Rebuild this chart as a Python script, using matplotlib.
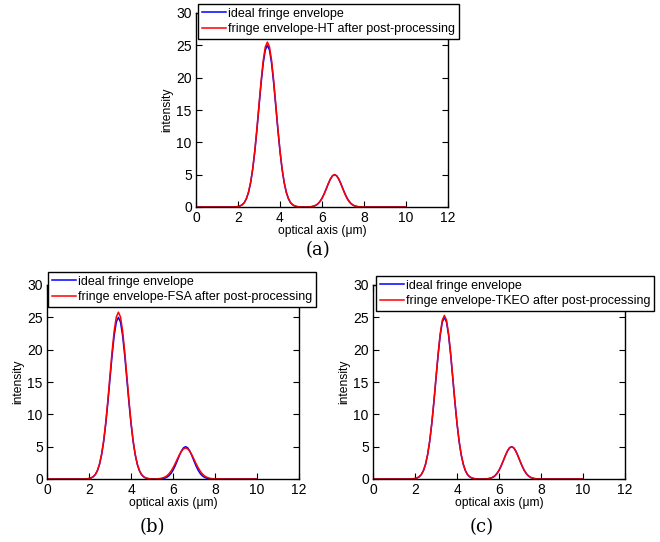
import matplotlib
matplotlib.use("Agg")
import matplotlib.pyplot as plt

plt.rcParams['font.family'] = ['Liberation Sans', 'DejaVu Sans']

# optical axis samples (um)
x = [0.0, 0.5, 1.0, 1.5,
     1.7, 1.8, 1.9, 2.0, 2.1, 2.2, 2.3, 2.4, 2.5, 2.6,
     2.7, 2.8, 2.9, 3.0, 3.1, 3.2, 3.3, 3.4, 3.5, 3.6,
     3.7, 3.8, 3.9, 4.0, 4.1, 4.2, 4.3, 4.4, 4.5, 4.6,
     4.7, 4.8, 4.9, 5.0, 5.1, 5.2, 5.3, 5.4, 5.5, 5.6,
     5.7, 5.8, 5.9, 6.0, 6.1, 6.2, 6.3, 6.4, 6.5, 6.6,
     6.7, 6.8, 6.9, 7.0, 7.1, 7.2, 7.3, 7.4, 7.5, 7.6,
     7.7, 7.8, 7.9, 8.0,
     8.5, 9.0, 9.5, 10.0]

ideal = [0.0, 0.0, 0.0, 0.0,
         0.0, 0.01, 0.03, 0.07, 0.16, 0.35, 0.68, 1.28, 2.25, 3.73,
         5.82, 8.57, 11.89, 15.53, 19.13, 22.20, 24.27, 25.00, 24.27, 22.20,
         19.13, 15.53, 11.89, 8.57, 5.82, 3.73, 2.25, 1.28, 0.68, 0.35,
         0.16, 0.07, 0.03, 0.01, 0.0, 0.0, 0.0, 0.02, 0.06, 0.13,
         0.26, 0.48, 0.84, 1.34, 2.01, 2.79, 3.60, 4.32, 4.82, 5.00,
         4.82, 4.32, 3.60, 2.79, 2.01, 1.34, 0.84, 0.48, 0.26, 0.13,
         0.06, 0.02, 0.0, 0.0,
         0.0, 0.0, 0.0, 0.0]

env_ht = [0.0, 0.0, 0.0, 0.0,
          0.0, 0.01, 0.03, 0.07, 0.17, 0.35, 0.69, 1.31, 2.30, 3.80,
          5.94, 8.74, 12.13, 15.84, 19.51, 22.64, 24.76, 25.50, 24.76, 22.64,
          19.51, 15.84, 12.13, 8.74, 5.94, 3.80, 2.30, 1.31, 0.69, 0.35,
          0.17, 0.07, 0.03, 0.01, 0.0, 0.0, 0.0, 0.02, 0.05, 0.12,
          0.25, 0.47, 0.83, 1.33, 2.00, 2.79, 3.61, 4.34, 4.84, 5.02,
          4.82, 4.30, 3.56, 2.74, 1.95, 1.29, 0.80, 0.45, 0.24, 0.12,
          0.05, 0.02, 0.0, 0.0,
          0.0, 0.0, 0.0, 0.0]

env_fsa = [0.0, 0.0, 0.0, 0.0,
           0.0, 0.01, 0.03, 0.08, 0.17, 0.36, 0.70, 1.32, 2.32, 3.85,
           6.01, 8.84, 12.27, 16.03, 19.74, 22.91, 25.05, 25.80, 25.05, 22.91,
           19.74, 16.03, 12.27, 8.84, 6.01, 3.85, 2.32, 1.32, 0.70, 0.36,
           0.17, 0.08, 0.03, 0.01, 0.0, 0.02, 0.04, 0.08, 0.16, 0.28,
           0.48, 0.78, 1.20, 1.73, 2.36, 3.05, 3.72, 4.29, 4.67, 4.80,
           4.67, 4.29, 3.72, 3.05, 2.36, 1.73, 1.20, 0.78, 0.48, 0.28,
           0.16, 0.08, 0.04, 0.02,
           0.0, 0.0, 0.0, 0.0]

env_tkeo = [0.0, 0.0, 0.0, 0.0,
            0.0, 0.01, 0.03, 0.07, 0.17, 0.35, 0.69, 1.30, 2.28, 3.77,
            5.89, 8.67, 12.03, 15.72, 19.36, 22.47, 24.56, 25.30, 24.56, 22.47,
            19.36, 15.72, 12.03, 8.67, 5.89, 3.77, 2.28, 1.30, 0.69, 0.35,
            0.17, 0.07, 0.03, 0.01, 0.0, 0.0, 0.0, 0.02, 0.06, 0.13,
            0.26, 0.48, 0.84, 1.34, 2.01, 2.79, 3.60, 4.32, 4.82, 5.00,
            4.82, 4.32, 3.60, 2.79, 2.01, 1.34, 0.84, 0.48, 0.26, 0.13,
            0.06, 0.02, 0.0, 0.0,
            0.0, 0.0, 0.0, 0.0]

xticks = [0, 2, 4, 6, 8, 10, 12]
yticks = [0, 5, 10, 15, 20, 25, 30]

W, H = 660, 542
fig = plt.figure(figsize=(W / 100, H / 100), dpi=100)


def px_axes(left, top, right, bottom):
    return fig.add_axes([left / W, 1 - bottom / H, (right - left) / W, (bottom - top) / H])


panels = [
    # (axes box in px, processed series, method, legend anchor px,
    #  caption, caption position px)
    ((196, 13, 448, 207), env_ht, 'HT', (198, 4), '(a)', 318, 250),
    ((47, 285, 299, 479), env_fsa, 'FSA', (48, 272), '(b)', 152, 527),
    ((373, 285, 625, 479), env_tkeo, 'TKEO', (376, 276), '(c)', 482, 527),
]

for box, env, name, leg_xy, cap, cap_x, cap_y in panels:
    ax = px_axes(*box)
    ax.plot(x, ideal, color=(0, 0, 1), lw=1.1, label='ideal fringe envelope')
    ax.plot(x, env, color=(1, 0, 0), lw=1.1,
            label='fringe envelope-%s after post-processing' % name)
    ax.set_xlim(0, 12)
    ax.set_ylim(0, 30)
    ax.set_xticks(xticks)
    ax.set_yticks(yticks)
    ax.tick_params(direction='in', length=4, width=0.8, top=True, right=True,
                   labelsize=10, pad=3, colors='black')
    for s in ax.spines.values():
        s.set_linewidth(1.0)
    ax.set_xlabel('optical axis (\u03bcm)', fontsize=8.7, labelpad=0)
    ax.set_ylabel('intensity', fontsize=8.7, labelpad=2)
    leg = ax.legend(loc='upper left',
                    bbox_to_anchor=(leg_xy[0] / W, 1 - leg_xy[1] / H),
                    bbox_transform=fig.transFigure, borderaxespad=0,
                    fontsize=9, frameon=True, fancybox=False, framealpha=1,
                    edgecolor='black', handlelength=1.9, handletextpad=0.2,
                    borderpad=0.3, labelspacing=0.25)
    leg.get_frame().set_linewidth(1.0)
    fig.text(cap_x / W, 1 - cap_y / H, cap, fontsize=13, family='DejaVu Serif',
             ha='center', va='center')

fig.savefig('out.png', dpi=100)
